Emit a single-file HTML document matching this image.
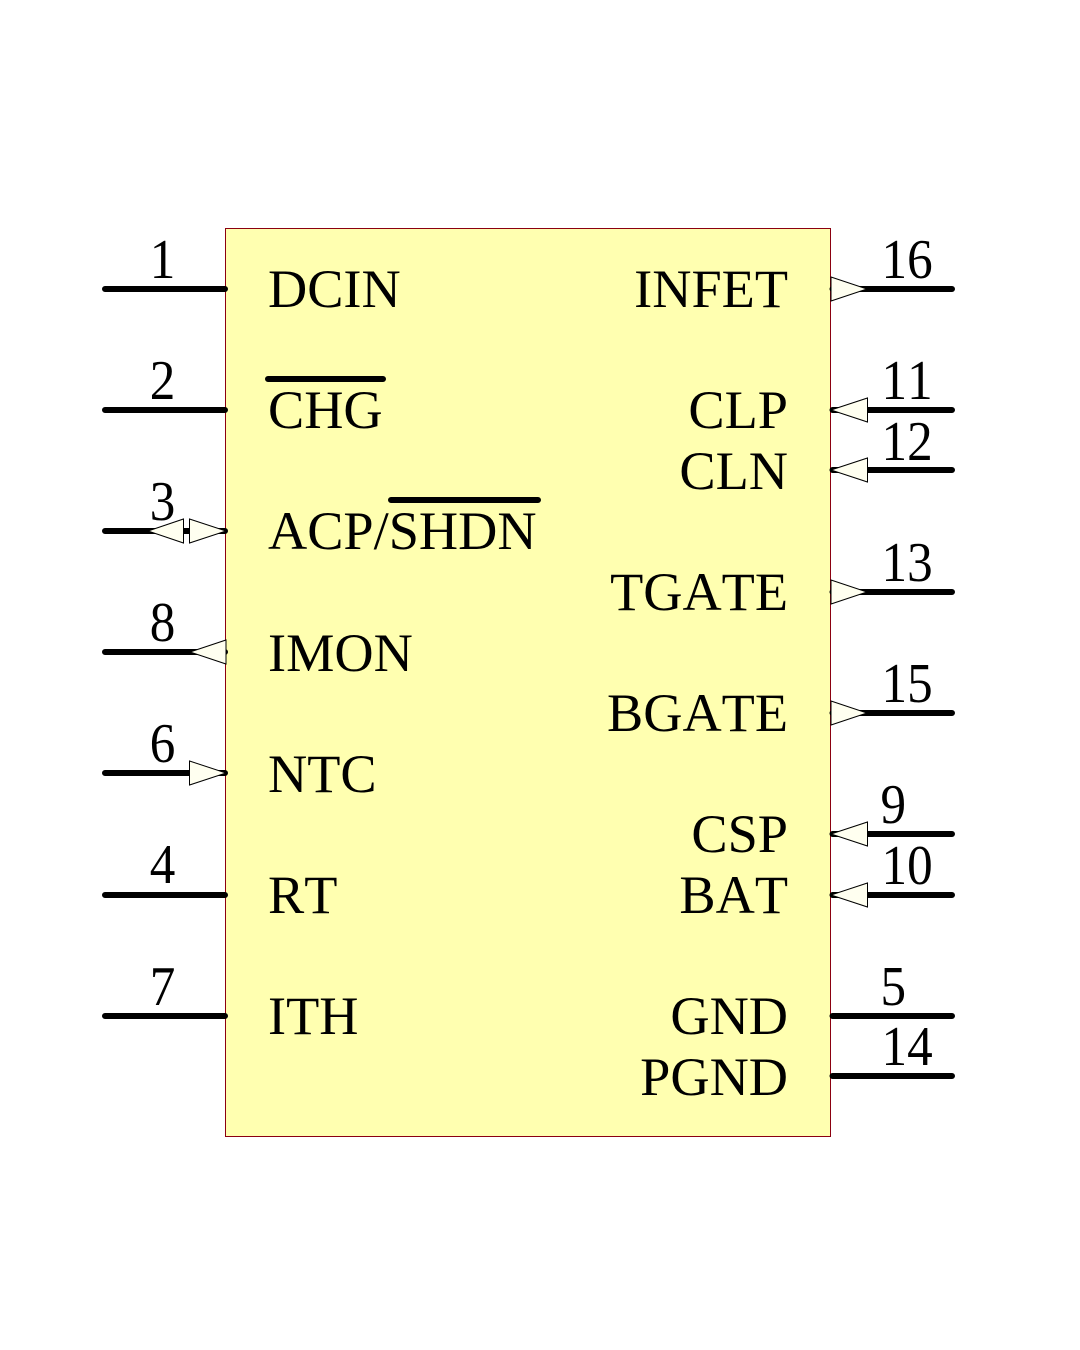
<!DOCTYPE html>
<html>
<head>
<meta charset="utf-8">
<style>
html,body{margin:0;padding:0;background:#fff}
svg{display:block}
text{font-family:"Liberation Serif",serif;font-size:54.3px;fill:#000;font-kerning:none}
.n text{font-size:55px}
.r{text-anchor:end}
.c{text-anchor:middle}
.p{stroke:#000;stroke-width:6;stroke-linecap:round;fill:none}
.t{fill:#fffff0;stroke:#000;stroke-width:1}
</style>
</head>
<body>
<svg width="1080" height="1350" viewBox="0 0 1080 1350" xmlns="http://www.w3.org/2000/svg">
<rect x="225.5" y="228.5" width="605" height="908" fill="#ffffb0" stroke="#8b0010" stroke-width="1"/>

<g class="p">
<path d="M105 289H225M105 410H225M105 531H225M105 652H225M105 773H225M105 895H225M105 1016H225"/>
<path d="M832.5 289H952M832.5 410H952M832.5 470H952M832.5 592H952M832.5 713H952M832.5 834H952M832.5 895H952M832.5 1016H952M832.5 1076H952"/>
<path d="M268 379H383M391 500H538"/>
</g>

<g class="t">
<polygon points="148,531 183.5,519 183.5,543"/>
<polygon points="189.5,519 226,531 189.5,543"/>
<polygon points="190,652 226,640 226,664"/>
<polygon points="189.5,761 226,773 189.5,785"/>
<polygon points="831,277 867,289 831,301"/>
<polygon points="831,410 867.5,398 867.5,422"/>
<polygon points="831,470 867.5,458 867.5,482"/>
<polygon points="831,580 867,592 831,604"/>
<polygon points="831,701 867,713 831,725"/>
<polygon points="831,834 867.5,822 867.5,846"/>
<polygon points="831,895 867.5,883 867.5,907"/>
</g>

<text x="268" y="307">DCIN</text>
<text x="268" y="428">CHG</text>
<text x="268" y="549">ACP/SHDN</text>
<text x="268" y="671">IMON</text>
<text x="268" y="792">NTC</text>
<text x="268" y="913">RT</text>
<text x="268" y="1034">ITH</text>

<text class="r" x="788" y="307">INFET</text>
<text class="r" x="788" y="428">CLP</text>
<text class="r" x="788" y="489">CLN</text>
<text class="r" x="788" y="610">TGATE</text>
<text class="r" x="788" y="731">BGATE</text>
<text class="r" x="788" y="852">CSP</text>
<text class="r" x="788" y="913">BAT</text>
<text class="r" x="788" y="1034">GND</text>
<text class="r" x="788" y="1095">PGND</text>

<g class="n">
<text class="c" transform="translate(162.5,278) scale(.93,1.02)">1</text>
<text class="c" transform="translate(162.5,399) scale(.93,1.02)">2</text>
<text class="c" transform="translate(162.5,520) scale(.93,1.02)">3</text>
<text class="c" transform="translate(162.5,641) scale(.93,1.02)">8</text>
<text class="c" transform="translate(162.5,762) scale(.93,1.02)">6</text>
<text class="c" transform="translate(162.5,883) scale(.93,1.02)">4</text>
<text class="c" transform="translate(162.5,1005) scale(.93,1.02)">7</text>

<text transform="translate(881.5,278) scale(.93,1.02)">16</text>
<text transform="translate(881.5,399) scale(.93,1.02)">11</text>
<text transform="translate(881.5,460) scale(.93,1.02)">12</text>
<text transform="translate(881.5,581) scale(.93,1.02)">13</text>
<text transform="translate(881.5,702) scale(.93,1.02)">15</text>
<text transform="translate(880.5,823) scale(.93,1.02)">9</text>
<text transform="translate(881.5,884) scale(.93,1.02)">10</text>
<text transform="translate(880.5,1005) scale(.93,1.02)">5</text>
<text transform="translate(881.5,1065) scale(.93,1.02)">14</text>
</g>
</svg>
</body>
</html>
